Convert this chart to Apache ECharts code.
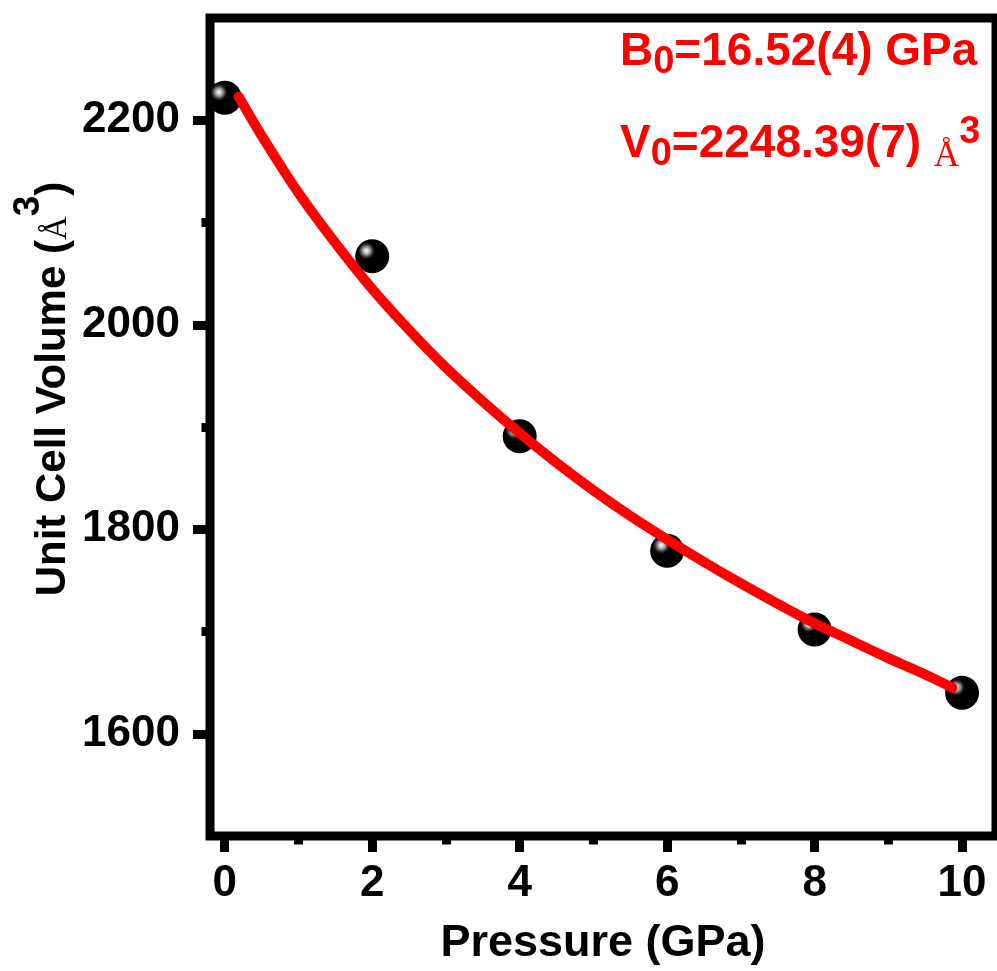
<!DOCTYPE html>
<html>
<head>
<meta charset="utf-8">
<script src="https://cdn.jsdelivr.net/npm/echarts@6/dist/echarts.min.js"></script>
<style>
html,body{margin:0;padding:0;background:#fff;}
#chart{width:997px;height:971px;}
</style>
</head>
<body>
<div id="chart"></div>
<script>
// Measured data points
const pressure = [0, 2, 4, 6, 8, 10];
const volume = [2222, 2067, 1891, 1779, 1702, 1640];
// Fitted EOS curve
const fitPressure = [0.19, 0.5, 1, 1.5, 2, 2.5, 3, 3.5, 4, 4.5, 5, 5.5, 6, 6.5, 7, 7.5, 8, 8.5, 9, 9.5, 9.87];
const fitVolume = [2223, 2185, 2129, 2080, 2035, 1995, 1958, 1925, 1894, 1865, 1838, 1813, 1790, 1768, 1747, 1727, 1708, 1691, 1674, 1658, 1645];
// Tick values / labels
const xMajorTicks = [0, 2, 4, 6, 8, 10];
const xMinorTicks = [1, 3, 5, 7, 9];
const yMajorTicks = [1600, 1800, 2000, 2200];
const yMinorTicks = [1700, 1900, 2100];
const xTitle = 'Pressure (GPa)';
const yTitleMain = 'Unit Cell Volume (';
const annB = ['B', '0', '=16.52(4) GPa'];
const annV = ['V', '0', '=2248.39(7) ', 'Å', '3'];

const SANS = '"Liberation Sans", Arial, Helvetica, sans-serif';
const SERIF = '"Liberation Serif", "Times New Roman", serif';

const chart = echarts.init(document.getElementById('chart'), null, {renderer: 'canvas'});

const scatterData = pressure.map((p, i) => [p, volume[i]]);
const fitData = fitPressure.map((p, i) => [p, fitVolume[i]]);

const xMin = -0.2, xMax = 10.46, yMin = 1500, yMax = 2300;

const sphere = {
  type: 'radial', x: 0.33, y: 0.34, r: 0.5,
  colorStops: [
    {offset: 0, color: '#ffffff'},
    {offset: 0.1, color: '#d8d8d8'},
    {offset: 0.25, color: '#8a8a8a'},
    {offset: 0.38, color: '#303030'},
    {offset: 0.5, color: '#000000'},
    {offset: 1, color: '#000000'}
  ]
};

const tickStyle = {color: '#000', width: 9};

const option = {
  animation: false,
  backgroundColor: '#ffffff',
  grid: {
    left: 210, top: 18, right: 1, bottom: 125.5,
    show: true, borderColor: '#000', borderWidth: 9, backgroundColor: 'transparent'
  },
  xAxis: [{
    type: 'value', min: xMin, max: xMax, position: 'bottom',
    axisLine: {show: false, onZero: false},
    splitLine: {show: false},
    axisTick: {show: true, inside: false, customValues: xMajorTicks, length: 16, lineStyle: tickStyle},
    axisLabel: {customValues: xMajorTicks, margin: 26, fontSize: 44, fontWeight: 'bold', fontFamily: SANS, color: '#000',
      formatter: v => String(v)},
    name: xTitle, nameLocation: 'middle', nameGap: 85,
    nameTextStyle: {fontSize: 45, fontWeight: 'bold', fontFamily: SANS, color: '#000'}
  }, {
    type: 'value', min: xMin, max: xMax, position: 'bottom', offset: 0,
    axisLine: {show: false, onZero: false}, splitLine: {show: false}, axisLabel: {show: false},
    axisTick: {show: true, inside: false, customValues: xMinorTicks, length: 8.5, lineStyle: tickStyle}
  }],
  yAxis: [{
    type: 'value', min: yMin, max: yMax, position: 'left',
    axisLine: {show: false, onZero: false},
    splitLine: {show: false},
    axisTick: {show: true, inside: false, customValues: yMajorTicks, length: 17, lineStyle: tickStyle},
    axisLabel: {customValues: yMajorTicks, margin: 30, fontSize: 44, fontWeight: 'bold', fontFamily: SANS, color: '#000',
      formatter: v => String(v)}
  }, {
    type: 'value', min: yMin, max: yMax, position: 'left', offset: 0,
    axisLine: {show: false, onZero: false}, splitLine: {show: false}, axisLabel: {show: false},
    axisTick: {show: true, inside: false, customValues: yMinorTicks, length: 8.5, lineStyle: tickStyle}
  }],
  graphic: [{
    type: 'text', x: 42, y: 389, rotation: Math.PI / 2, z: 100,
    style: {
      text: '{m|' + yTitleMain + '}{a|Å}{s|3}{m|)}',
      align: 'center', verticalAlign: 'middle',
      rich: {
        m: {fontSize: 42, fontWeight: 'bold', fontFamily: SANS, fill: '#000', lineHeight: 64, verticalAlign: 'bottom'},
        a: {fontSize: 33, fontWeight: 'normal', fontFamily: SERIF, fill: '#000', lineHeight: 44, verticalAlign: 'bottom'},
        s: {fontSize: 37, fontWeight: 'bold', fontFamily: SANS, fill: '#000', lineHeight: 10, verticalAlign: 'top'}
      }
    }
  }, {
    type: 'text', x: 620, y: 22, z: 100,
    style: {
      text: '{m|' + annB[0] + '}{b|' + annB[1] + '}{m|' + annB[2] + '}',
      align: 'left', verticalAlign: 'top',
      rich: {
        m: {fontSize: 46, fontWeight: 'bold', fontFamily: SANS, fill: '#ff0000', lineHeight: 60},
        b: {fontSize: 38, fontWeight: 'bold', fontFamily: SANS, fill: '#ff0000', lineHeight: 30, verticalAlign: 'bottom'}
      }
    }
  }, {
    type: 'text', x: 620, y: 114, z: 100,
    style: {
      text: '{m|' + annV[0] + '}{b|' + annV[1] + '}{m|' + annV[2] + '}{a|' + annV[3] + '}{s|' + annV[4] + '}',
      align: 'left', verticalAlign: 'top',
      rich: {
        m: {fontSize: 46, fontWeight: 'bold', fontFamily: SANS, fill: '#ff0000', lineHeight: 60},
        b: {fontSize: 38, fontWeight: 'bold', fontFamily: SANS, fill: '#ff0000', lineHeight: 30, verticalAlign: 'bottom'},
        a: {fontSize: 35, fontWeight: 'normal', fontFamily: SERIF, fill: '#ff0000', lineHeight: 50, verticalAlign: 'bottom'},
        s: {fontSize: 38, fontWeight: 'bold', fontFamily: SANS, fill: '#ff0000', lineHeight: 23, verticalAlign: 'top'}
      }
    }
  }],
  series: [{
    type: 'scatter', xAxisIndex: 0, yAxisIndex: 0,
    data: scatterData, symbol: 'circle', symbolSize: 34, z: 2,
    itemStyle: {color: sphere, opacity: 1}
  }, {
    type: 'line', xAxisIndex: 0, yAxisIndex: 0,
    data: fitData, smooth: 0.3, showSymbol: false, symbol: 'none', z: 3,
    lineStyle: {color: '#ff0000', width: 10, cap: 'round'}
  }]
};
chart.setOption(option);
</script>
</body>
</html>
